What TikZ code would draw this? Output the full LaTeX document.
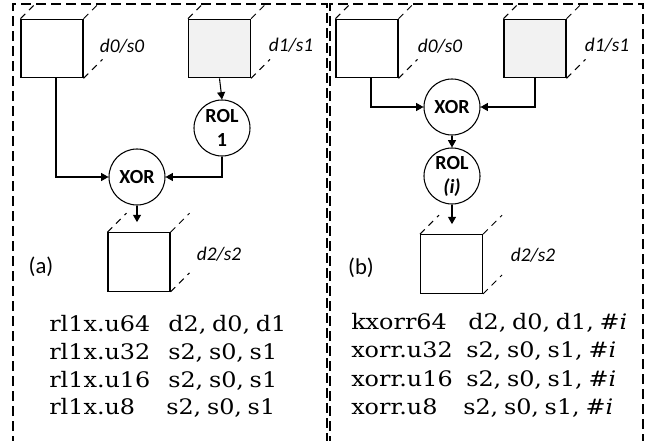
\documentclass[tikz,border=0pt]{standalone}
\usepackage{fontspec}
\setmainfont{Carlito}
\newfontfamily\codefont[FakeStretch=1.12,WordSpace=0.75]{DejaVu Serif}
\usetikzlibrary{arrows.meta}

\begin{document}
\begin{tikzpicture}[
    x=0.75pt, y=-0.75pt,
    every node/.append style={font=\fontsize{14.5}{17}\selectfont},
    % register cubes
    reg/.style={draw, line width=0.8pt, fill=white, minimum width=46.5pt, minimum height=44pt, inner sep=0pt},
    regshade/.style={reg, fill=black!5},
    depth/.style={dash pattern=on 5pt off 4pt, line width=0.7pt},
    regname/.style={font=\itshape\fontsize{14.5}{17}\selectfont},
    % operations
    op/.style={draw, circle, line width=0.8pt, fill=white, minimum size=42pt, inner sep=0pt, align=center, font=\bfseries\fontsize{15}{18}\selectfont},
    flow/.style={-{Triangle[width=6pt,length=5.5pt]}, line width=0.8pt},
    % frames and text
    panel/.style={dash pattern=on 7.5pt off 3.75pt, line width=0.9pt},
    tag/.style={font=\fontsize{17}{20}\selectfont},
    code/.style={anchor=base west, inner sep=0pt, font=\codefont\fontsize{16}{19}\selectfont},
]
\useasboundingbox (0,0) rectangle (654,440);

% ========== panels ==========
\draw[panel] (13,446) -- (13,4) -- (327,4) -- (327,446);
\draw[panel] (330,446) -- (330,4) -- (643,4) -- (643,446);

% ========== (a) rl1x ==========
\node[reg] (r0a) at (52,48.5) {};
\node[regshade] (r1a) at (219.5,48.5) {};
\node[op] (rola) at (222,128) {ROL\\1};
\node[op] (xora) at (137,177) {XOR};
\node[reg] (r2a) at (139,262) {};

\node[regname] (n0a) at (122,46) {d0/s0};
\node[regname] (n1a) at (291,45) {d1/s1};
\node[regname] (n2a) at (219,254) {d2/s2};
\node[tag] (taga) at (41,267) {(a)};

\draw[flow] ([xshift=3pt]r0a.south) |- (xora.west);
\draw[flow] (r1a.south) -- (rola.north);
\draw[flow] (rola.south) |- (xora.east);
\draw[flow, shorten >=7.5pt] (xora.south) -- (xora.south |- r2a.north);

% ========== (b) xorr ==========
\node[reg] (r0b) at (367,48.5) {};
\node[regshade] (r1b) at (535,48.5) {};
\node[op] (xorb) at (452,107) {XOR};
\node[op] (rolb) at (452,176) {ROL\\\textit{(i)}};
\node[reg] (r2b) at (451.5,264) {};

\node[regname] (n0b) at (440,46) {d0/s0};
\node[regname] (n1b) at (607,45) {d1/s1};
\node[regname] (n2b) at (533,255) {d2/s2};
\node[tag] (tagb) at (361,268) {(b)};

\draw[flow] ([xshift=3pt]r0b.south) |- (xorb.west);
\draw[flow] (r1b.south) |- (xorb.east);
\draw[flow] (xorb.south) -- (rolb.north);
\draw[flow, shorten >=7.5pt] (rolb.south) -- (rolb.south |- r2b.north);

% ========== cube depth edges ==========
\begin{scope}
\clip (13,4) rectangle (643,440);
\foreach \r in {r0a, r1a, r2a, r0b, r1b, r2b} {
    \draw[depth] (\r.north west) -- ++(19,-19);
    \draw[depth] (\r.north east) -- ++(19,-19);
    \draw[depth] (\r.south east) -- ++(19,-19);
}
\end{scope}

% ========== instructions ==========
\node[code] (ma1) at (49,331) {rl1x.u64};
\node[code] (aa1) at (168,331) {d2, d0, d1};
\node[code] (ma2) at (49,359) {rl1x.u32};
\node[code] (aa2) at (168,359) {s2, s0, s1};
\node[code] (ma3) at (49,387) {rl1x.u16};
\node[code] (aa3) at (168,387) {s2, s0, s1};
\node[code] (ma4) at (49,414) {rl1x.u8};
\node[code] (aa4) at (166,414) {s2, s0, s1};

\node[code] (mb1) at (351,329) {kxorr64};
\node[code] (ab1) at (468,329) {d2, d0, d1, \textit{\#i}};
\node[code] (mb2) at (351,357) {xorr.u32};
\node[code] (ab2) at (466,357) {s2, s0, s1, \textit{\#i}};
\node[code] (mb3) at (351,386) {xorr.u16};
\node[code] (ab3) at (466,386) {s2, s0, s1, \textit{\#i}};
\node[code] (mb4) at (351,414) {xorr.u8};
\node[code] (ab4) at (463,414) {s2, s0, s1, \textit{\#i}};

\end{tikzpicture}
\end{document}
